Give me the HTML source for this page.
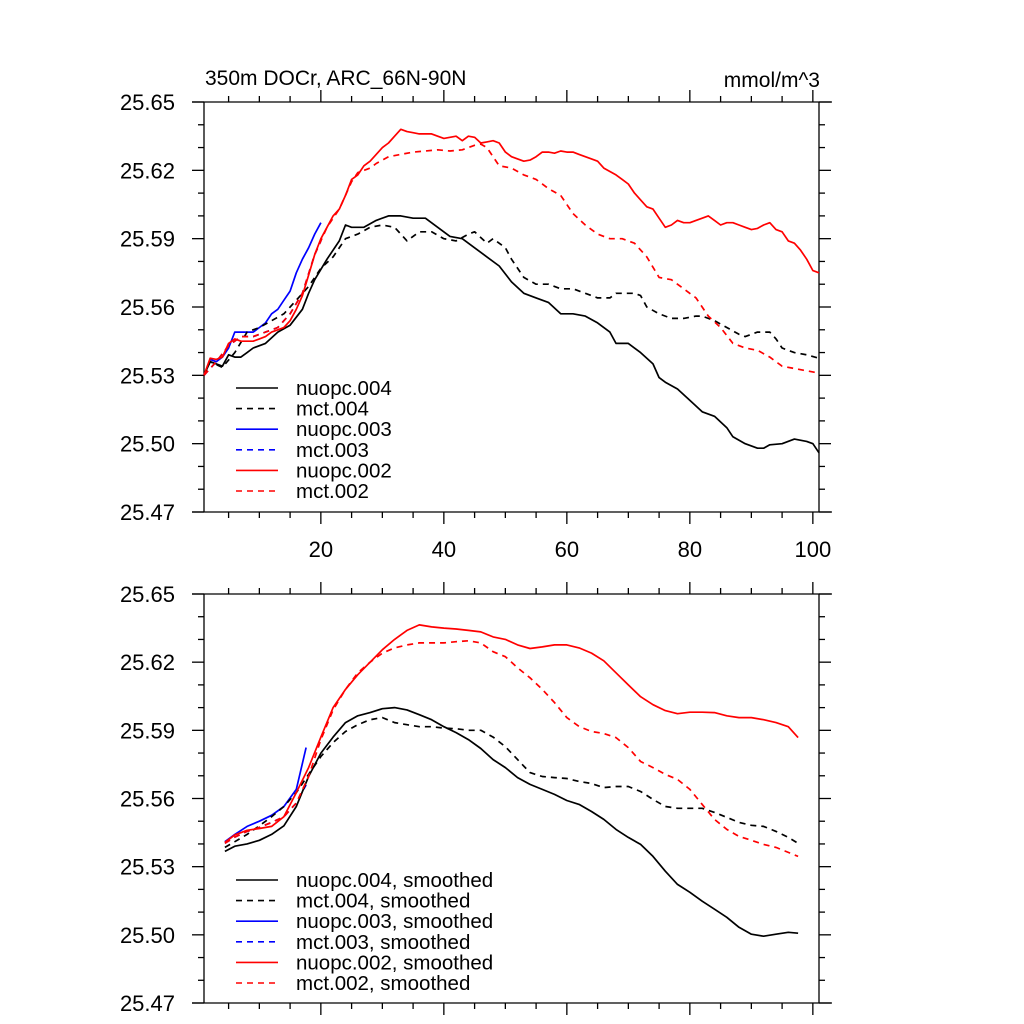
<!DOCTYPE html>
<html><head><meta charset="utf-8"><style>
html,body{margin:0;padding:0;background:#fff;}
svg{display:block;font-family:"Liberation Sans",Arial,sans-serif;}
</style></head><body>
<svg id="chart" width="1024" height="1024" viewBox="0 0 1024 1024" xmlns="http://www.w3.org/2000/svg">
<rect width="1024" height="1024" fill="#fff"/>
<text x="205" y="85" font-size="21">350m DOCr, ARC_66N-90N</text>
<text x="820" y="87" font-size="21" text-anchor="end">mmol/m^3</text>
<g id="top"></g>
<g id="bot"></g>
</svg>
<script>
const yTicks=[25.47,25.50,25.53,25.56,25.59,25.62,25.65];
const yTickLabels=["25.47","25.50","25.53","25.56","25.59","25.62","25.65"];
const xTicks=[20,40,60,80,100];
const xTickLabels=["20","40","60","80","100"];
const seriesNames=["nuopc.004","mct.004","nuopc.003","mct.003","nuopc.002","mct.002"];

// top panel (raw)
const rawRedX=[1,2,3,4,5,6,7,8,9,10,11,12,13,14,15,16,17,18,19,20,21,22,23,24,25,26,27,28,29,30,31,32,33,34,35,36,37,38,39,40,41,42,43,44,45,46,47,48,49,50,51,52,53,54,55,56,57,58,59,60,61,62,63,64,65,66,67,68,69,70,71,72,73,74,75,76,77,78,79,80,81,82,83,84,85,86,87,88,89,90,91,92,93,94,95,96,97,98,99,100,101];
const rawRedY=[25.530,25.5375,25.537,25.538,25.544,25.546,25.545,25.545,25.545,25.546,25.547,25.549,25.550,25.551,25.554,25.559,25.565,25.574,25.583,25.590,25.595,25.600,25.603,25.609,25.616,25.618,25.622,25.624,25.627,25.630,25.632,25.635,25.638,25.637,25.6365,25.636,25.636,25.636,25.635,25.634,25.6345,25.635,25.633,25.635,25.6345,25.632,25.6325,25.633,25.632,25.628,25.626,25.625,25.624,25.6245,25.626,25.628,25.628,25.6275,25.6285,25.628,25.628,25.627,25.626,25.625,25.624,25.621,25.6195,25.618,25.616,25.614,25.610,25.607,25.604,25.603,25.599,25.595,25.596,25.598,25.597,25.597,25.598,25.599,25.600,25.598,25.596,25.597,25.597,25.596,25.595,25.594,25.5945,25.596,25.597,25.594,25.593,25.589,25.588,25.585,25.581,25.576,25.575];
const rawRedDashX=[1,3,5,7,9,11,13,15,17,19,21,23,25,26,28,29,31,33,35,37,39,41,43,45,46,47,49,51,53,55,57,59,61,63,65,67,69,71,73,75,77,79,81,83,85,87,89,91,93,95,97,99,101];
const rawRedDashY=[25.530,25.536,25.543,25.547,25.547,25.549,25.551,25.557,25.566,25.583,25.595,25.603,25.615,25.619,25.621,25.623,25.626,25.627,25.628,25.6285,25.629,25.6285,25.629,25.631,25.6315,25.630,25.622,25.621,25.618,25.616,25.612,25.609,25.601,25.596,25.592,25.590,25.590,25.588,25.582,25.573,25.572,25.568,25.564,25.556,25.551,25.544,25.542,25.541,25.538,25.534,25.533,25.532,25.531];
const rawBlackX=[1,2,3,4,5,6,7,8,9,11,13,15,17,18,19,21,23,24,25,27,29,31,33,35,37,39,41,43,45,47,49,51,53,55,57,59,61,63,65,67,68,70,72,74,75,76,78,80,82,84,86,87,89,91,92,93,95,97,99,100,101];
const rawBlackY=[25.530,25.536,25.535,25.534,25.539,25.538,25.538,25.540,25.542,25.544,25.549,25.552,25.559,25.566,25.572,25.581,25.589,25.596,25.595,25.595,25.598,25.600,25.600,25.599,25.599,25.595,25.591,25.590,25.586,25.582,25.578,25.571,25.566,25.564,25.562,25.557,25.557,25.556,25.553,25.549,25.544,25.544,25.540,25.535,25.529,25.527,25.524,25.519,25.514,25.512,25.507,25.503,25.500,25.498,25.498,25.4995,25.500,25.502,25.501,25.500,25.496];
const rawBlackDashX=[1,2,4,6,8,10,12,14,16,18,20,22,24,26,28,30,32,34,36,38,40,42,44,45,47,48,50,51,53,55,57,59,61,63,65,67,68,71,72,73,75,77,79,81,82,84,86,88,89,91,93,94,95,97,99,101];
const rawBlackDashY=[25.530,25.536,25.5335,25.540,25.549,25.551,25.554,25.557,25.563,25.569,25.577,25.582,25.590,25.592,25.595,25.596,25.595,25.589,25.593,25.593,25.590,25.589,25.592,25.593,25.588,25.590,25.586,25.581,25.573,25.570,25.570,25.568,25.568,25.566,25.564,25.564,25.566,25.566,25.565,25.560,25.557,25.555,25.555,25.556,25.556,25.554,25.551,25.548,25.547,25.549,25.549,25.546,25.542,25.540,25.539,25.5375];
const rawBlueX=[1,2,3,4,5,6,7,8,9,10,11,12,13,14,15,16,17,18,19,20];
const rawBlueY=[25.530,25.537,25.536,25.538,25.542,25.549,25.549,25.549,25.549,25.551,25.553,25.557,25.559,25.563,25.567,25.575,25.581,25.586,25.592,25.597];
const rawBlueDashX=[1,3,5,7,9,11,13,15,17,19,20];
const rawBlueDashY=[25.530,25.536,25.543,25.547,25.547,25.549,25.551,25.557,25.566,25.583,25.589];

// bottom panel (smoothed)
const smX=[4.4,6,8,10,12,14,16,18,20,22,24,26,28,30,32,34,36,38,40,42,44,46,48,50,52,54,56,58,60,62,64,66,68,70,72,74,76,78,80,82,84,86,88,90,92,94,96,97.6];
const smRedY=[25.5407,25.544,25.546,25.5468,25.5477,25.552,25.5626,25.5736,25.587,25.600,25.608,25.6145,25.620,25.6255,25.630,25.634,25.6364,25.6355,25.635,25.6346,25.634,25.6333,25.6311,25.630,25.6276,25.626,25.6267,25.6276,25.6276,25.6263,25.624,25.6206,25.6153,25.610,25.6048,25.6013,25.5987,25.5973,25.598,25.598,25.5978,25.5964,25.5956,25.5956,25.5947,25.5934,25.5916,25.5868];
const smRedDashY=[25.5403,25.543,25.5455,25.5473,25.5495,25.552,25.558,25.5697,25.5859,25.599,25.608,25.6153,25.620,25.624,25.6263,25.6276,25.6285,25.6285,25.6285,25.629,25.6294,25.6285,25.6246,25.6224,25.6175,25.6131,25.608,25.6022,25.5956,25.5917,25.5895,25.5886,25.5868,25.5824,25.5763,25.5736,25.5706,25.5684,25.564,25.5574,25.5508,25.5464,25.5433,25.5416,25.5398,25.5385,25.5363,25.5345];
const smBlackY=[25.5367,25.539,25.540,25.5416,25.5442,25.548,25.5565,25.5697,25.580,25.587,25.5934,25.5964,25.5978,25.5995,25.600,25.599,25.5969,25.5947,25.5916,25.589,25.5859,25.582,25.5771,25.5736,25.5692,25.5662,25.564,25.5618,25.5591,25.5574,25.5543,25.5508,25.5464,25.5429,25.5398,25.5345,25.528,25.5222,25.5187,25.5148,25.5113,25.5077,25.5033,25.5003,25.4994,25.5003,25.5011,25.5007];
const smBlackDashY=[25.5385,25.541,25.5442,25.548,25.552,25.5565,25.5626,25.5706,25.5785,25.5846,25.5895,25.5925,25.5947,25.5956,25.5934,25.5925,25.5916,25.5916,25.591,25.5907,25.590,25.590,25.587,25.5828,25.5771,25.5714,25.5697,25.5692,25.5688,25.5675,25.5666,25.5648,25.5653,25.5653,25.5631,25.5596,25.5565,25.5557,25.5557,25.5557,25.5539,25.5517,25.5495,25.5482,25.5477,25.5455,25.5429,25.5403];
const smBlueX=[4.4,6,8,10,12,14,16,17.6];
const smBlueY=[25.541,25.5442,25.5477,25.55,25.5526,25.5565,25.564,25.5824];
const smBlueDashY=[25.5403,25.543,25.5455,25.5473,25.5495,25.552,25.558,25.566];

const NS="http://www.w3.org/2000/svg";
const X0=204,X1=819,XMIN=1,XMAX=101,YMIN=25.47,YMAX=25.65;
function xs(v){return X0+(v-XMIN)/(XMAX-XMIN)*(X1-X0);}
function mk(tag,attrs,parent){const e=document.createElementNS(NS,tag);for(const k in attrs)e.setAttribute(k,attrs[k]);parent.appendChild(e);return e;}

function panel(g,top,bottom,showXLabels,lines,legend){
  const ys=v=>bottom-(v-YMIN)/(YMAX-YMIN)*(bottom-top);
  const ax=mk('g',{stroke:'#000','stroke-width':1.3,fill:'none'},g);
  
  
  mk('line',{x1:192,y1:top,x2:832,y2:top},ax);
  mk('line',{x1:192,y1:bottom,x2:832,y2:bottom},ax);
  mk('line',{x1:X0,y1:top,x2:X0,y2:bottom},ax);
  mk('line',{x1:X1,y1:top,x2:X1,y2:bottom},ax);
  for(let v=5;v<=100;v+=5){
    const x=xs(v),maj=(v%20===0);const L=maj?12:6;
    mk('line',{x1:x,y1:top,x2:x,y2:top-L},ax);
    mk('line',{x1:x,y1:bottom,x2:x,y2:bottom+L},ax);
  }
  for(let i=0;i<=18;i++){
    const v=YMIN+i*0.01,y=ys(v),maj=(i%3===0);const L=maj?12:6;
    mk('line',{x1:X0,y1:y,x2:X0-L,y2:y},ax);
    mk('line',{x1:X1,y1:y,x2:X1+L,y2:y},ax);
  }
  yTicks.forEach((v,i)=>{
    const t=mk('text',{x:175,y:ys(v)+8,'font-size':22,'text-anchor':'end'},g);
    
    
    t.textContent=yTickLabels[i];
  });
  if(showXLabels){
    xTicks.forEach((v,i)=>{
      const t=mk('text',{x:xs(v),y:bottom+45,'font-size':22,'text-anchor':'middle'},g);
      
      
      t.textContent=xTickLabels[i];
    });
  }
  lines.forEach(s=>{
    const d=s.x.map((v,i)=>(i?'L':'M')+xs(v).toFixed(1)+','+ys(s.y[i]).toFixed(1)).join(' ');
    const p=mk('path',{d:d,fill:'none',stroke:s.c,'stroke-width':1.7,'stroke-linejoin':'round'},g);
    if(s.dash)p.setAttribute('stroke-dasharray','6,5');
    
    
  });
  legend.items.forEach((it,i)=>{
    const y=legend.y0+i*20.6;
    const lg=mk('g',{},g);
    
    
    const l=mk('line',{x1:236,y1:y,x2:278,y2:y,stroke:it.c,'stroke-width':1.6},lg);
    if(it.dash)l.setAttribute('stroke-dasharray','6,5');
    const t=mk('text',{x:296,y:y+7,'font-size':20.5},lg);
    t.textContent=it.label;
  });
}
const colors=["#000","#000","#00f","#00f","#f00","#f00"];
const dashes=[false,true,false,true,false,true];
panel(document.getElementById('top'),102,512,true,[
  {x:rawBlueDashX,y:rawBlueDashY,c:'#00f',dash:true,name:'mct003-line'},
  {x:rawBlueX,y:rawBlueY,c:'#00f',dash:false,name:'nuopc003-line'},
  {x:rawBlackDashX,y:rawBlackDashY,c:'#000',dash:true,name:'mct004-line'},
  {x:rawBlackX,y:rawBlackY,c:'#000',dash:false,name:'nuopc004-line'},
  {x:rawRedDashX,y:rawRedDashY,c:'#f00',dash:true,name:'mct002-line'},
  {x:rawRedX,y:rawRedY,c:'#f00',dash:false,name:'nuopc002-line'}
],{y0:388,items:seriesNames.map((n,i)=>({label:n,c:colors[i],dash:dashes[i]}))});
panel(document.getElementById('bot'),594,1003,false,[
  {x:smBlueX,y:smBlueDashY,c:'#00f',dash:true,name:'mct003-smoothed-line'},
  {x:smBlueX,y:smBlueY,c:'#00f',dash:false,name:'nuopc003-smoothed-line'},
  {x:smX,y:smBlackDashY,c:'#000',dash:true,name:'mct004-smoothed-line'},
  {x:smX,y:smBlackY,c:'#000',dash:false,name:'nuopc004-smoothed-line'},
  {x:smX,y:smRedDashY,c:'#f00',dash:true,name:'mct002-smoothed-line'},
  {x:smX,y:smRedY,c:'#f00',dash:false,name:'nuopc002-smoothed-line'}
],{y0:880,items:seriesNames.map((n,i)=>({label:n+', smoothed',c:colors[i],dash:dashes[i]}))});
</script>
</body></html>
